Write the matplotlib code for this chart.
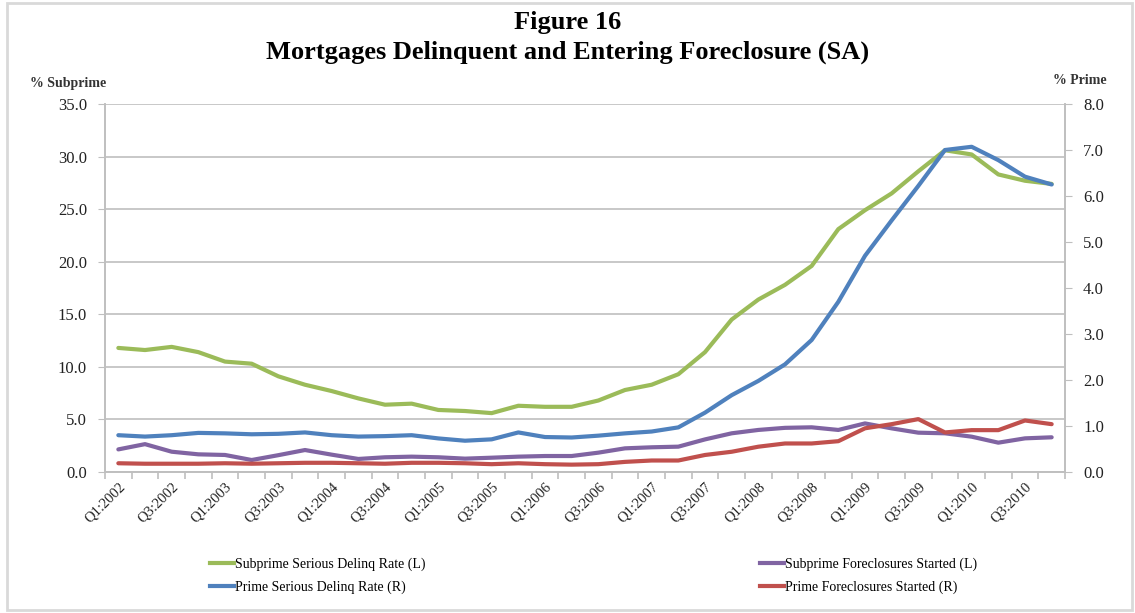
import matplotlib.pyplot as plt
from matplotlib.patches import Rectangle
from matplotlib.lines import Line2D

plt.rcParams["font.family"] = ["Liberation Serif", "DejaVu Serif"]

# quarters Q1:2002 .. Q4:2010
quarters = [f"Q{q}:{y}" for y in range(2002, 2011) for q in range(1, 5)]

subprime_delinq = [11.8, 11.6, 11.9, 11.4, 10.5, 10.3, 9.1, 8.3, 7.7, 7.0, 6.4, 6.5,
                   5.9, 5.8, 5.6, 6.3, 6.2, 6.2, 6.8, 7.8, 8.3, 9.3, 11.4, 14.5,
                   16.4, 17.8, 19.6, 23.1, 24.9, 26.5, 28.6, 30.6, 30.2, 28.3, 27.7, 27.4]
subprime_fcl = [2.15, 2.65, 1.93, 1.68, 1.62, 1.14, 1.6, 2.09, 1.65, 1.24, 1.40, 1.46,
                1.40, 1.27, 1.36, 1.46, 1.52, 1.52, 1.84, 2.25, 2.35, 2.41, 3.1, 3.68,
                4.0, 4.2, 4.25, 4.0, 4.62, 4.15, 3.74, 3.68, 3.36, 2.79, 3.2, 3.3]
prime_delinq = [0.80, 0.77, 0.80, 0.85, 0.84, 0.82, 0.83, 0.86, 0.80, 0.77, 0.78, 0.80,
                0.73, 0.68, 0.71, 0.86, 0.76, 0.75, 0.79, 0.84, 0.88, 0.97, 1.29, 1.67,
                1.98, 2.34, 2.87, 3.7, 4.7, 5.47, 6.22, 7.0, 7.07, 6.78, 6.42, 6.25]
prime_fcl = [0.19, 0.18, 0.18, 0.18, 0.19, 0.18, 0.19, 0.20, 0.20, 0.19, 0.18, 0.20,
             0.20, 0.19, 0.17, 0.19, 0.17, 0.16, 0.17, 0.22, 0.25, 0.25, 0.37, 0.44,
             0.55, 0.62, 0.62, 0.67, 0.95, 1.04, 1.15, 0.86, 0.91, 0.91, 1.12, 1.04]

GREEN = "#9BBB59"
PURPLE = "#8064A2"
BLUE = "#4F81BD"
RED = "#C0504D"
GRAY = "#BFBFBF"

W, H = 1135, 613
fig = plt.figure(figsize=(W / 100, H / 100), dpi=100)
fig.patches.append(Rectangle((7 / W, 1 - 610 / H), 1125 / W, 607 / H,
                             transform=fig.transFigure, fill=False,
                             edgecolor="#D9D9D9", linewidth=2))

ax = fig.add_axes([105 / W, 1 - 472 / H, 960 / W, 368 / H])
ax2 = ax.twinx()

x = list(range(len(quarters)))
ax.plot(x, subprime_delinq, color=GREEN, lw=3, solid_capstyle="round")
ax.plot(x, subprime_fcl, color=PURPLE, lw=3, solid_capstyle="round")
ax2.plot(x, prime_delinq, color=BLUE, lw=3, solid_capstyle="round")
ax2.plot(x, prime_fcl, color=RED, lw=3, solid_capstyle="round")

ax.set_xlim(-0.5, len(quarters) - 0.5)
ax.set_ylim(0, 35)
ax2.set_ylim(0, 8)
ax.set_yticks(range(0, 36, 5))
ax.set_yticklabels([f"{v:.1f}" for v in range(0, 36, 5)])
ax2.set_yticks(range(0, 9))
ax2.set_yticklabels([f"{v:.1f}" for v in range(0, 9)])

ax.set_xticks(x[::2])
ax.set_xticklabels(quarters[::2], rotation=45, ha="right", rotation_mode="anchor",
                   fontsize=10.5, color="#222222")
ax.set_xticks([i - 0.5 for i in range(len(quarters) + 1)], minor=True)
ax.tick_params(axis="x", which="major", length=0, pad=6)
ax.tick_params(axis="x", which="minor", length=5, color=GRAY, width=1.2)

ax.grid(axis="y", color=GRAY, lw=1.2)
ax.set_axisbelow(True)
for a in (ax, ax2):
    for s in a.spines.values():
        s.set_color(GRAY)
        s.set_linewidth(1.2)
    a.spines["top"].set_visible(False)
ax.tick_params(axis="y", length=5, color=GRAY, labelsize=12, labelcolor="#222222", pad=8)
ax2.tick_params(axis="y", length=5, color=GRAY, labelsize=12, labelcolor="#222222", pad=8)

fig.text(0.5, 1 - 22 / H, "Figure 16", ha="center", va="center",
         fontsize=19, fontweight="bold")
fig.text(0.5, 1 - 52 / H, "Mortgages Delinquent and Entering Foreclosure (SA)",
         ha="center", va="center", fontsize=19, fontweight="bold")
fig.text(30 / W, 1 - 84 / H, "% Subprime", ha="left", va="center",
         fontsize=10, fontweight="bold", color="#333333")
fig.text(1107 / W, 1 - 81 / H, "% Prime", ha="right", va="center",
         fontsize=10, fontweight="bold", color="#333333")

def handle(c):
    return Line2D([], [], color=c, lw=3)

leg_kw = dict(frameon=False, fontsize=10, handlelength=1.7, handletextpad=0.1,
              labelspacing=0.65, borderpad=0, loc="upper left")
fig.legend([handle(GREEN), handle(BLUE)],
           ["Subprime Serious Delinq Rate (L)", "Prime Serious Delinq Rate (R)"],
           bbox_to_anchor=(203 / W, 1 - 551 / H), **leg_kw)
fig.legend([handle(PURPLE), handle(RED)],
           ["Subprime Foreclosures Started (L)", "Prime Foreclosures Started (R)"],
           bbox_to_anchor=(753 / W, 1 - 551 / H), **leg_kw)

fig.savefig("out.png", dpi=100)
